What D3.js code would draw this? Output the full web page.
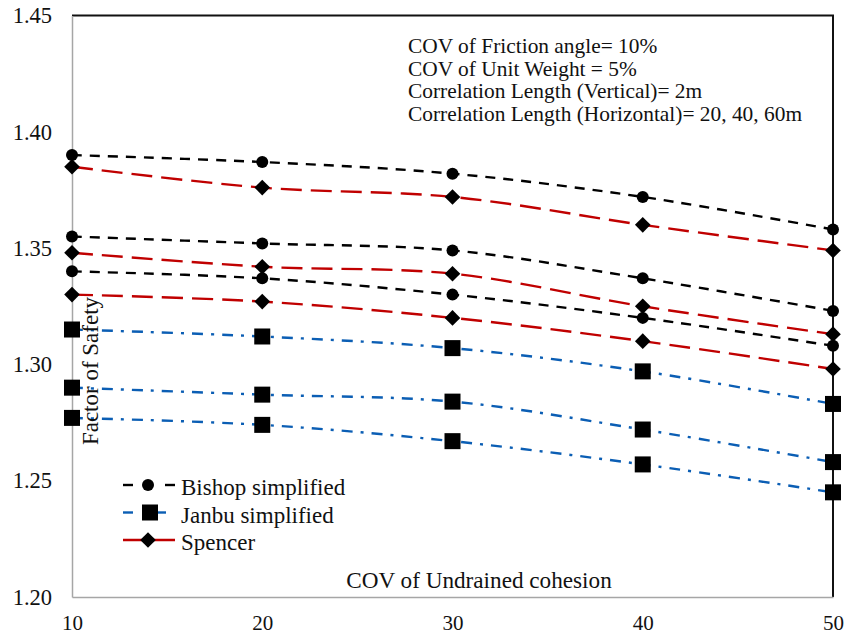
<!DOCTYPE html>
<html>
<head>
<meta charset="utf-8">
<script src="https://cdn.jsdelivr.net/npm/d3@7"></script>
<style>
  html, body { margin: 0; padding: 0; background: #fff; }
  svg { display: block; }
  svg text { font-family: "Liberation Serif", "Times New Roman", Times, "DejaVu Serif", serif !important; }
</style>
</head>
<body>
<svg id="chart" width="846" height="636"></svg>
<script>
// ---- data ----
const covUndrained = [10, 20, 30, 40, 50];
const xTicks = [10, 20, 30, 40, 50];
const yTicks = [1.20, 1.25, 1.30, 1.35, 1.40, 1.45];

const bishopTop = [1.390, 1.387, 1.382, 1.372, 1.358];
const bishopMid = [1.355, 1.352, 1.349, 1.337, 1.323];
const bishopLow = [1.340, 1.337, 1.330, 1.320, 1.308];

const spencerTop = [1.385, 1.376, 1.372, 1.360, 1.349];
const spencerMid = [1.348, 1.342, 1.339, 1.325, 1.313];
const spencerLow = [1.330, 1.327, 1.320, 1.310, 1.298];

const janbuTop = [1.315, 1.312, 1.307, 1.297, 1.283];
const janbuMid = [1.290, 1.287, 1.284, 1.272, 1.258];
const janbuLow = [1.277, 1.274, 1.267, 1.257, 1.245];

const legendLabels = ["Bishop simplified", "Janbu simplified", "Spencer"];
const notes = [
  "COV of Friction angle= 10%",
  "COV of Unit Weight = 5%",
  "Correlation Length (Vertical)= 2m",
  "Correlation Length (Horizontal)= 20, 40, 60m"
];
const xTitle = "COV of Undrained cohesion";
const yTitle = "Factor of Safety";

// ---- layout ----
const FONT = '"Liberation Serif", "Times New Roman", Times, "DejaVu Serif", serif';
const svg = d3.select("#chart");
const L = 72, R = 833, T = 15.5, B = 597;
const x = d3.scaleLinear().domain([10, 50]).range([L, R]);
const y = d3.scaleLinear().domain([1.20, 1.45]).range([B, T]);

const BLACK = "#000000", RED = "#c00000", BLUE = "#0b5eb4";
const styles = {
  bishop: { color: BLACK, dash: "10,8", marker: "circle" },
  janbu: { color: BLUE, dash: "11,8,3,8", marker: "square" },
  spencer: { color: RED, dash: "21,9", marker: "diamond" }
};

const series = [
  { key: "bishop", values: bishopTop },
  { key: "bishop", values: bishopMid },
  { key: "bishop", values: bishopLow },
  { key: "spencer", values: spencerTop },
  { key: "spencer", values: spencerMid },
  { key: "spencer", values: spencerLow },
  { key: "janbu", values: janbuTop },
  { key: "janbu", values: janbuMid },
  { key: "janbu", values: janbuLow }
];

// plot frame: top & right black border
svg.append("path")
  .attr("d", `M${L},${T}H${R}V${B}`)
  .attr("fill", "none").attr("stroke", "#111").attr("stroke-width", 2);

// axes
const gy = svg.append("g").attr("transform", `translate(${L},0)`)
  .call(d3.axisLeft(y).tickValues(yTicks).tickSize(0).tickPadding(20).tickFormat(d3.format(".2f")));
const gx = svg.append("g").attr("transform", `translate(0,${B})`)
  .call(d3.axisBottom(x).tickValues(xTicks).tickSize(0).tickPadding(18).tickFormat(d3.format("d")));
[gx, gy].forEach(g => {
  g.attr("font-family", FONT);
  g.select(".domain").attr("stroke", "#a6a6a6").attr("stroke-width", 1.5);
  g.selectAll("text").attr("font-family", FONT).attr("fill", "#111");
});
gy.attr("font-size", 22.5).selectAll("text").attr("font-size", 22.5);
gx.attr("font-size", 21).selectAll("text").attr("font-size", 21);

// lines
const line = d3.line()
  .x((d, i) => x(covUndrained[i]))
  .y(d => y(d))
  .curve(d3.curveCatmullRom.alpha(0.5));

svg.append("g").selectAll("path").data(series).join("path")
  .attr("d", d => line(d.values))
  .attr("fill", "none")
  .attr("stroke", d => styles[d.key].color)
  .attr("stroke-width", 2.4)
  .attr("stroke-dasharray", d => styles[d.key].dash);

// markers
function drawMarker(g, type, cx, cy) {
  if (type === "circle") {
    g.append("circle").attr("cx", cx).attr("cy", cy).attr("r", 6).attr("fill", "#000");
  } else if (type === "square") {
    g.append("rect").attr("x", cx - 8).attr("y", cy - 8).attr("width", 16).attr("height", 16).attr("fill", "#000");
  } else {
    const s = 7.8;
    g.append("path").attr("d", `M${cx},${cy - s}L${cx + s},${cy}L${cx},${cy + s}L${cx - s},${cy}Z`).attr("fill", "#000");
  }
}
const gm = svg.append("g");
series.forEach(s => {
  s.values.forEach((v, i) => drawMarker(gm, styles[s.key].marker, x(covUndrained[i]), y(v)));
});

// annotation
const ann = svg.append("text").attr("x", 408).attr("y", 53)
  .attr("font-family", FONT).attr("font-size", 21.4).attr("fill", "#111");
ann.selectAll("tspan").data(notes).join("tspan")
  .attr("x", 408).attr("dy", (d, i) => i === 0 ? 0 : 22.7).text(d => d);

// axis titles
svg.append("text").attr("x", 479).attr("y", 588).attr("text-anchor", "middle")
  .attr("font-family", FONT).attr("font-size", 23.2).attr("fill", "#111").text(xTitle);
svg.append("text").attr("transform", "translate(98,371) rotate(-90)").attr("text-anchor", "middle")
  .attr("font-family", FONT).attr("font-size", 23).attr("fill", "#111").text(yTitle);

// legend
const legKeys = ["bishop", "janbu", "spencer"];
const lg = svg.append("g");
legKeys.forEach((k, i) => {
  const cy = 485 + i * 27.5;
  const st = styles[k];
  if (k === "bishop") {
    lg.append("line").attr("x1", 123).attr("x2", 133).attr("y1", cy).attr("y2", cy).attr("stroke", st.color).attr("stroke-width", 2.4);
    lg.append("line").attr("x1", 165).attr("x2", 175).attr("y1", cy).attr("y2", cy).attr("stroke", st.color).attr("stroke-width", 2.4);
  } else if (k === "janbu") {
    lg.append("line").attr("x1", 123).attr("x2", 133).attr("y1", cy).attr("y2", cy).attr("stroke", st.color).attr("stroke-width", 2.4);
    lg.append("line").attr("x1", 156).attr("x2", 166).attr("y1", cy).attr("y2", cy).attr("stroke", st.color).attr("stroke-width", 2.4);
  } else {
    lg.append("line").attr("x1", 123).attr("x2", 175).attr("y1", cy).attr("y2", cy).attr("stroke", st.color).attr("stroke-width", 2.4);
  }
  drawMarker(lg, st.marker, k === "janbu" ? 150 : 148, cy);
  lg.append("text").attr("x", 181).attr("y", cy + 10)
    .attr("font-family", FONT).attr("font-size", 23).attr("fill", "#111").text(legendLabels[i]);
});
</script>
</body>
</html>
